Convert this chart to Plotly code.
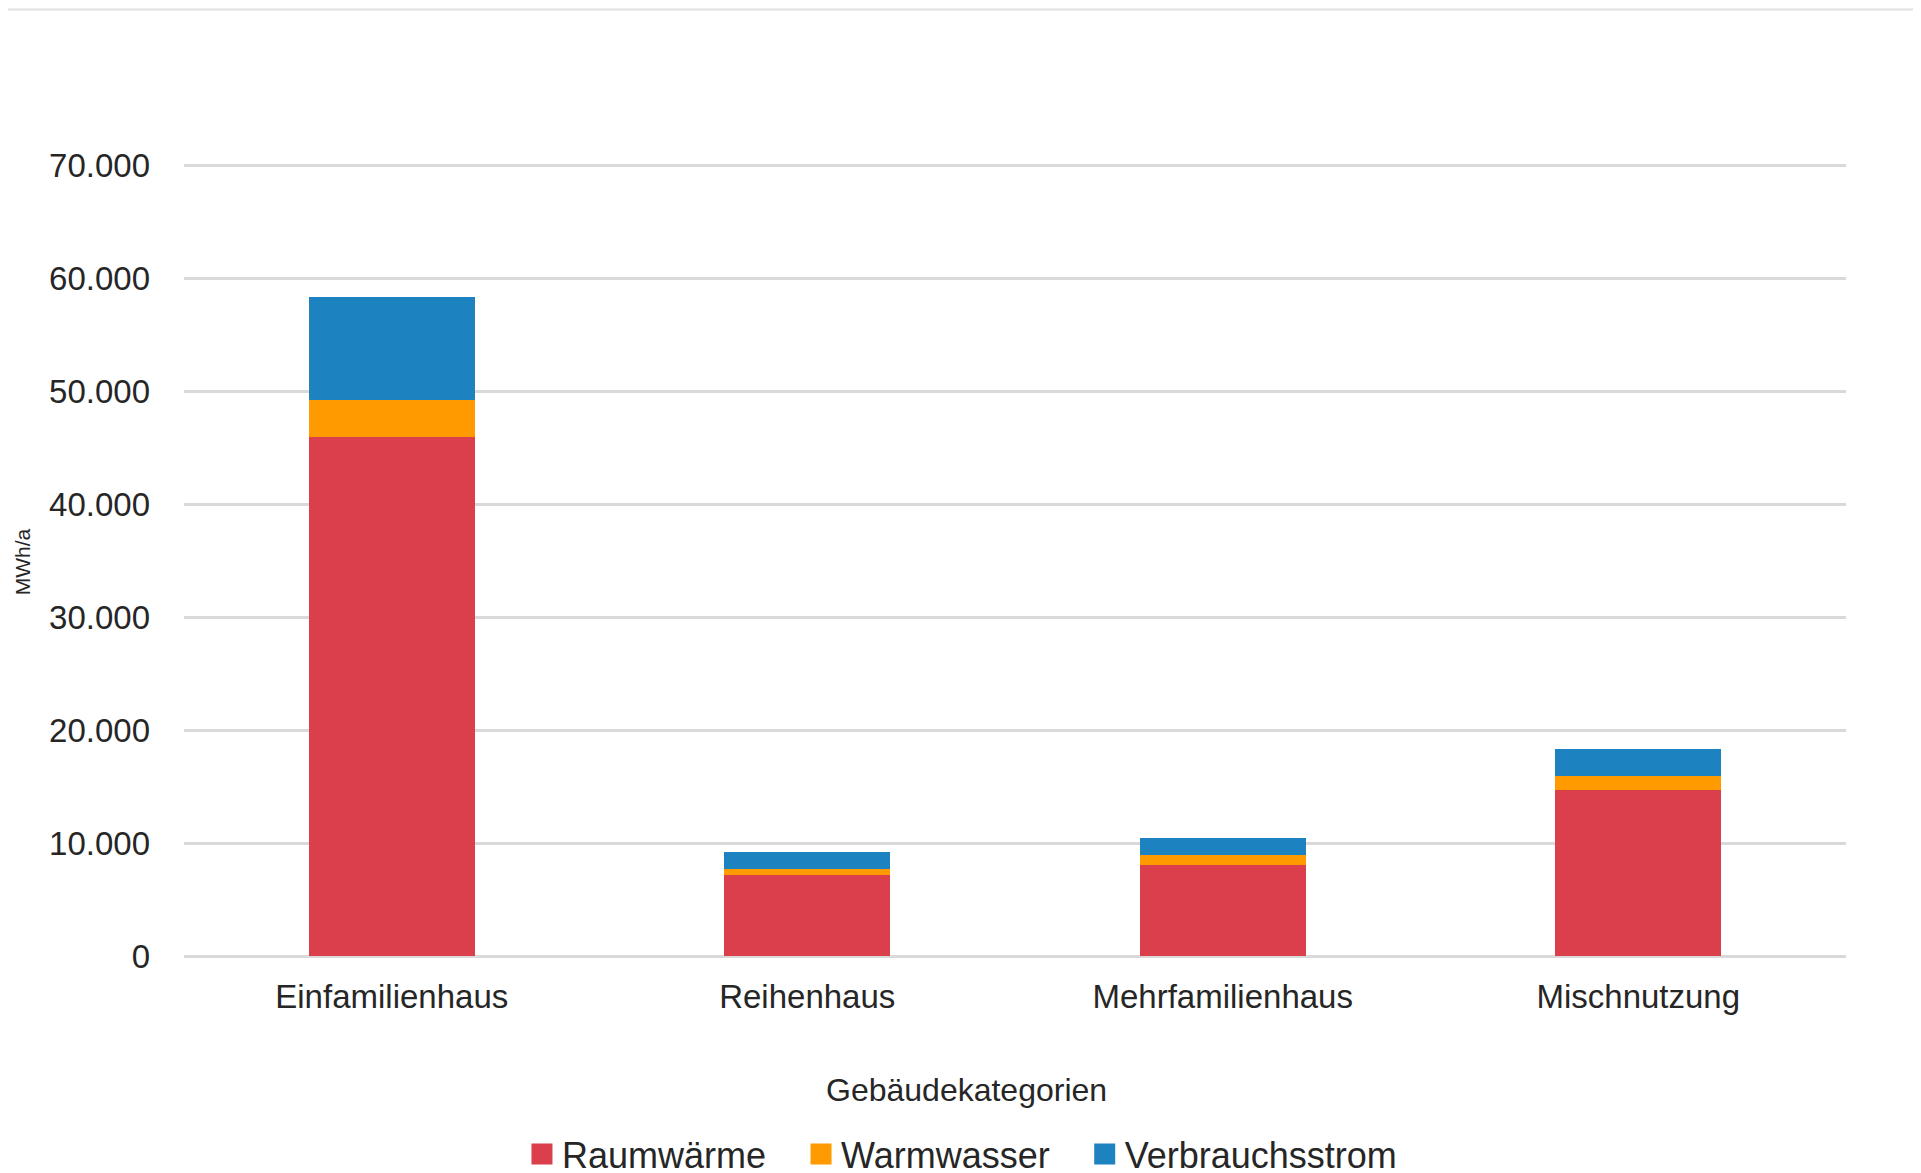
import plotly.graph_objects as go

kategorien = ["Einfamilienhaus", "Reihenhaus", "Mehrfamilienhaus", "Mischnutzung"]
raumwaerme = [45900, 7130, 8020, 14670]
warmwasser = [3350, 590, 910, 1220]
verbrauchsstrom = [9050, 1510, 1540, 2450]

y_ticks = [0, 10000, 20000, 30000, 40000, 50000, 60000, 70000]

serien = ["Raumwärme", "Warmwasser", "Verbrauchsstrom"]
farben = ["#DA3F4B", "#FF9A00", "#1C83C0"]

FONT = "Liberation Sans"
PAD = "\u00a0" * 3  # etwas mehr Abstand zwischen den Legendeneinträgen

fig = go.Figure()
for name, werte, farbe in zip(serien, [raumwaerme, warmwasser, verbrauchsstrom], farben):
    fig.add_trace(go.Bar(x=kategorien, y=werte, name=name, marker_color=farbe,
                         marker_line_width=0, showlegend=False, legendgroup=name))

# Legendeneinträge mit größeren Quadraten
for i, (name, farbe) in enumerate(zip(serien, farben)):
    label = name + (PAD if i < len(serien) - 1 else "")
    fig.add_trace(go.Scatter(x=[None], y=[None], mode="markers", name=label, legendgroup=name,
                             marker=dict(symbol="square", size=16, color=farbe,
                                         line=dict(color=farbe, width=5))))

fig.update_layout(
    barmode="stack",
    bargap=0.6,
    separators=",.",
    width=1921,
    height=1173,
    paper_bgcolor="white",
    plot_bgcolor="white",
    font=dict(family=FONT, size=28, color="#262626"),
    margin=dict(l=176, r=83, t=154, b=225, autoexpand=False),
    xaxis=dict(
        showgrid=False,
        showline=False,
        ticks="",
        tickfont=dict(size=33),
        ticklabelstandoff=18,
    ),
    yaxis=dict(
        range=[0, 70270],
        tickvals=y_ticks,
        tickformat=",d",
        showgrid=True,
        gridcolor="#D9D9D9",
        gridwidth=2.5,
        zeroline=True,
        zerolinecolor="#D9D9D9",
        zerolinewidth=2.5,
        showline=False,
        ticks="",
        tickfont=dict(size=33),
        ticklabelstandoff=33,
    ),
    legend=dict(
        orientation="h",
        xref="container",
        x=0.4966,
        xanchor="center",
        yref="container",
        y=0.023,
        yanchor="middle",
        font=dict(size=36),
        itemsizing="trace",
        traceorder="normal",
    ),
    showlegend=True,
)

# Achsentitel unten
fig.add_annotation(
    text="Gebäudekategorien",
    xref="paper", yref="paper",
    x=0.471, y=-0.169,
    xanchor="center", yanchor="middle",
    showarrow=False,
    font=dict(size=32),
)

# Y-Achsentitel
fig.add_annotation(
    text="MWh/a",
    xref="paper", yref="paper",
    x=-0.0975, y=0.497,
    xanchor="center", yanchor="middle",
    textangle=-90,
    showarrow=False,
    font=dict(size=21),
)

# dünne Linie oben
fig.add_shape(
    type="line", xref="paper", yref="paper",
    x0=-176 / 1662, x1=1 + 83 / 1662,
    y0=1 + 152 / 791, y1=1 + 152 / 791,
    line=dict(color="#E0E0E0", width=2),
)

fig.write_html("out.html")
